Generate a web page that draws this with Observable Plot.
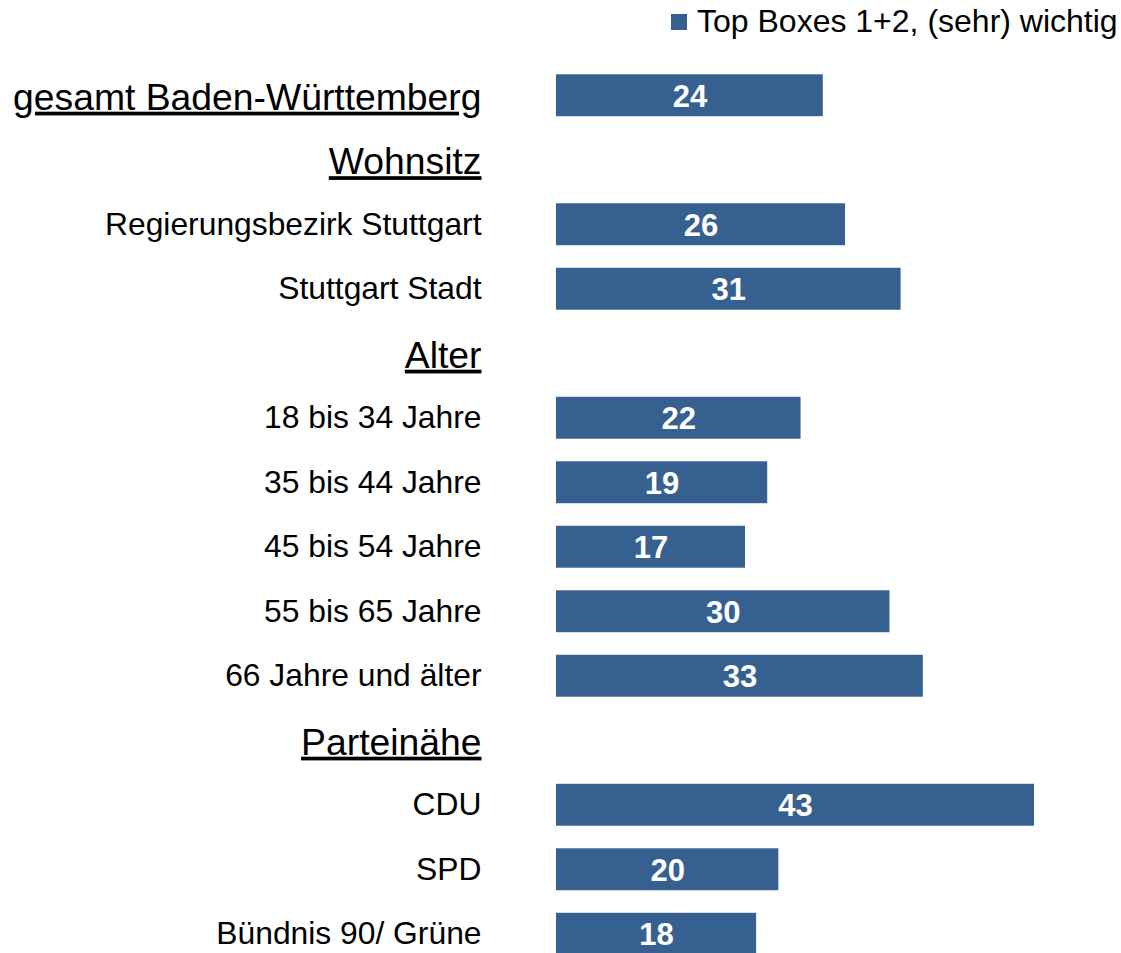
<!DOCTYPE html>
<html>
<head>
<meta charset="utf-8">
<script src="https://cdn.jsdelivr.net/npm/d3@7"></script>
<script src="https://cdn.jsdelivr.net/npm/@observablehq/plot@0.6"></script>
<style>
  html, body { margin: 0; padding: 0; background: #fff; overflow: hidden; width: 1121px; height: 953px; }
  #wrap { position: relative; width: 1121px; height: 953px; font-family: "Liberation Sans", Arial, sans-serif; }
  #chart { position: absolute; left: 0; top: 0; }
  #legend { position: absolute; left: 671px; top: 5px; display: flex; align-items: center; font-size: 32px; line-height: 32px; color: #000; white-space: nowrap; }
  #legend .sw { width: 16px; height: 16px; background: #36608f; margin-right: 10px; margin-top: 1px; }
</style>
</head>
<body>
<div id="wrap">
  <div id="legend"><div class="sw"></div><span id="legendText"></span></div>
  <div id="chart"></div>
</div>
<script>
const seriesName = "Top Boxes 1+2, (sehr) wichtig";
const categories = [
  "gesamt Baden-Württemberg",
  "Wohnsitz",
  "Regierungsbezirk Stuttgart",
  "Stuttgart Stadt",
  "Alter",
  "18 bis 34 Jahre",
  "35 bis 44 Jahre",
  "45 bis 54 Jahre",
  "55 bis 65 Jahre",
  "66 Jahre und älter",
  "Parteinähe",
  "CDU",
  "SPD",
  "Bündnis 90/ Grüne"
];
const values = [24, null, 26, 31, null, 22, 19, 17, 30, 33, null, 43, 20, 18];
const headers = ["gesamt Baden-Württemberg", "Wohnsitz", "Alter", "Parteinähe"];

document.getElementById("legendText").textContent = seriesName;

const rows = categories.map((c, i) => ({category: c, value: values[i], header: headers.includes(c)}));
const bars = rows.filter(d => d.value != null);
const labels = rows.filter(d => !d.header);
const heads = rows.filter(d => d.header);

const color = "#36608f";
const font = "Liberation Sans, Arial, sans-serif";

const plot = Plot.plot({
  width: 1121,
  height: 966,
  marginTop: 63,
  marginBottom: 0,
  marginLeft: 556,
  marginRight: 87,
  style: {fontFamily: font, background: "transparent", overflow: "visible"},
  x: {domain: [0, 43], axis: null},
  y: {type: "band", domain: categories, paddingInner: 0.35, paddingOuter: 0.175, round: false, axis: null},
  marks: [
    Plot.barX(bars, {x: "value", y: "category", fill: color}),
    Plot.text(bars, {x: d => d.value / 2, y: "category", text: d => String(d.value), fill: "white", fontWeight: "bold", fontSize: 31, fontFamily: font, dy: 1}),
    Plot.text(labels, {y: "category", text: "category", frameAnchor: "left", textAnchor: "end", dx: -75, fontSize: 31.8, fontFamily: font, fill: "black"}),
    Plot.text(heads, {y: "category", text: "category", frameAnchor: "left", textAnchor: "end", dx: -75, dy: 2, fontSize: 37.3, fontFamily: font, fill: "black"})
  ]
});

d3.select(plot).selectAll("text").filter(function() { return headers.includes(this.textContent); })
  .style("text-decoration", "underline");

document.getElementById("chart").appendChild(plot);
</script>
</body>
</html>
